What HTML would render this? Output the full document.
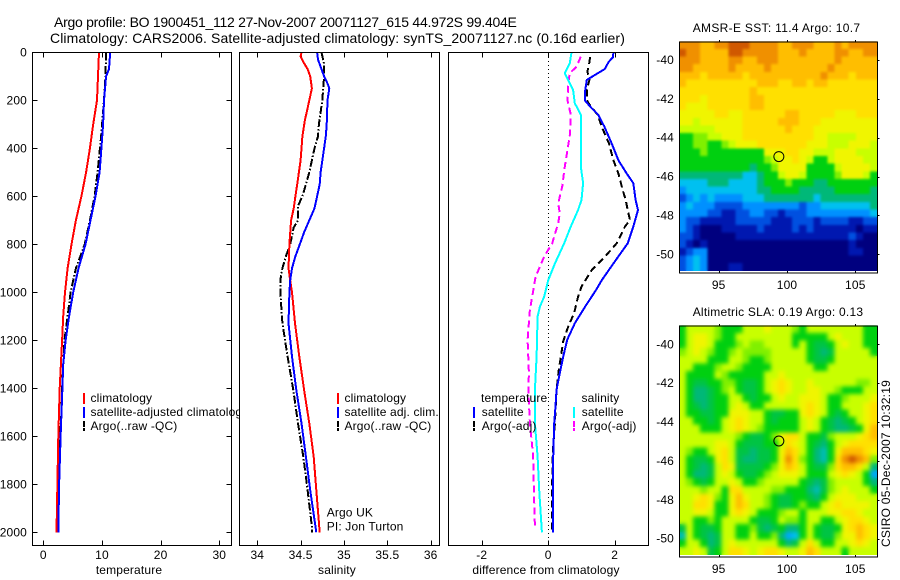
<!DOCTYPE html>
<html>
<head>
<meta charset="utf-8">
<title>Argo profile</title>
<style>
html,body{margin:0;padding:0;background:#fff;width:900px;height:580px;overflow:hidden}
svg{display:block}
text{font-family:"Liberation Sans",sans-serif;font-size:12px;letter-spacing:.15px;fill:#000}
</style>
</head>
<body>
<svg id="chart" xmlns="http://www.w3.org/2000/svg" width="900" height="580" viewBox="0 0 900 580">
<rect x="0" y="0" width="900" height="580" fill="#fff"/>
<text x="54" y="27" style="font-size:14px" textLength="463">Argo profile: BO 1900451_112 27-Nov-2007 20071127_615 44.972S 99.404E</text>
<text x="50" y="43" style="font-size:14px" textLength="575">Climatology: CARS2006. Satellite-adjusted climatology: synTS_20071127.nc (0.16d earlier)</text>
</svg>
<script>
// ---------- depth ticks ----------
const depthTicks = [0,200,400,600,800,1000,1200,1400,1600,1800,2000];
const tempTicks = [0,10,20,30];
const salTicks = [34,34.5,35,35.5,36];
const salTickLabels = ['34','34.5','35','35.5','36'];
const diffTicks = [-2,0,2];
const lonTicks = [95,100,105];
const latTicks = [-40,-42,-44,-46,-48,-50];

// ---------- temperature panel ----------
const tempClimDepth = [0,200,300,400,500,600,700,800,900,1000,1100,1200,1300,1400,1600,1800,2000];
const tempClim = [9.5,9.15,8.5,7.95,7.3,6.5,5.55,4.8,4.15,3.7,3.4,3.2,3.0,2.8,2.55,2.4,2.25];
const tempSatDepth = [0,70,100,200,300,400,500,600,700,800,900,1000,1100,1200,1300,1400,1600,1800,2000];
const tempSat = [11.4,11.2,10.7,10.35,10.2,9.9,9.6,8.9,8.05,7.2,6,5.1,4.4,3.8,3.4,3.25,2.95,2.7,2.55];
const tempArgoDepth = [0,100,200,350,500,600,700,800,900,1000,1100,1200,1400,1500,1700,2000];
const tempArgo = [10.7,10.6,10.35,9.85,9.25,8.75,7.95,7.05,5.55,4.65,4.15,3.6,3.2,3.1,2.55,2.4];

// ---------- salinity panel ----------
const salClimDepth = [0,18,40,70,100,150,200,250,280,350,450,500,550,600,650,700,800,900,950,1000,1129,1268,1407,1546,1685,1824,2000];
const salClim = [34.51,34.5,34.53,34.58,34.61,34.63,34.6,34.57,34.55,34.52,34.5,34.48,34.46,34.44,34.42,34.39,34.37,34.36,34.38,34.40,34.435,34.485,34.54,34.6,34.65,34.68,34.72];
const salSatDepth = [0,30,60,100,130,150,200,300,350,400,500,550,600,650,700,750,800,850,900,950,1000,1129,1268,1407,1546,1685,1824,2000];
const salSat = [34.69,34.7,34.73,34.77,34.81,34.83,34.81,34.8,34.79,34.77,34.73,34.72,34.69,34.66,34.6,34.54,34.49,34.44,34.4,34.38,34.37,34.36,34.4,34.45,34.51,34.56,34.61,34.68];
const salArgoDepth = [0,50,100,150,200,250,300,350,400,450,500,550,600,640,700,730,800,850,900,950,1000,1129,1268,1407,1546,1685,1824,1977,2000];
const salArgo = [34.74,34.77,34.77,34.76,34.75,34.73,34.71,34.7,34.66,34.63,34.6,34.56,34.52,34.47,34.47,34.42,34.38,34.33,34.29,34.265,34.265,34.29,34.35,34.415,34.47,34.53,34.58,34.63,34.63];

// ---------- difference panel ----------
const diffTSatDepth = [0,20,40,70,90,115,170,200,226,260,310,380,450,505,545,615,657,726,796,880,950,990,1060,1129,1198,1268,1337,1407,1476,1546,1685,2000];
const diffTSat = [1.96,1.95,1.82,1.7,1.46,1.16,1.1,1.1,1.26,1.5,1.69,1.91,2.11,2.36,2.56,2.63,2.7,2.56,2.39,1.96,1.61,1.44,1.11,.8,.57,.45,.35,.25,.22,.18,.15,.15];
const diffTArgoDepth = [20,50,80,115,157,200,226,260,310,380,450,505,574,615,657,699,726,796,851,907,976,1018,1087,1143,1205,1323,1407,1546,1685,1803,2000];
const diffTArgo = [1.26,1.23,1.18,1.24,1.16,1.16,1.28,1.49,1.61,1.83,1.96,2.11,2.24,2.33,2.39,2.46,2.31,2.06,1.71,1.31,1.0,.9,.78,.6,.45,.32,.25,.2,.13,.12,.12];
const diffSSatDepth = [0,46,87,115,157,212,260,337,476,545,615,657,726,796,880,950,1018,1060,1101,1268,1407,1546,1685,1824,2000];
const diffSSat = [.7,.65,.5,.6,.75,.8,.98,.98,.98,1.05,1.0,.9,.68,.48,.2,0,-.12,-.25,-.32,-.35,-.4,-.4,-.32,-.27,-.19];
const diffSArgoDepth = [18,60,87,129,200,260,337,407,476,560,629,671,712,796,851,935,1018,1073,1198,1337,1407,1546,1685,1824,1977];
const diffSArgo = [.98,.85,.65,.6,.58,.68,.66,.58,.5,.42,.3,.35,.3,.12,-.12,-.38,-.48,-.55,-.62,-.58,-.6,-.55,-.45,-.43,-.4];

// ---------- map colour stops ----------
const mapPalette = ['#00007f','#0018b0','#0050e0','#0090ff','#00c0f0','#00b878','#00d010','#80f000','#c8ff00','#f0f500','#ffe000','#ffbe00','#f09000','#d05800'];

// ---------- AMSR-E SST grid (colour level per cell, north to south) ----------
const sstGrid = [
[12,12,12,11,11,12,12,13,13,13,12,12,12,12,11,11,12,12,12,11,11,11,12,11,12,12,12,12],
[13,12,12,11,11,11,11,13,13,12,12,12,12,12,11,11,11,12,11,11,11,11,12,12,11,11,12,12],
[12,12,12,11,11,11,11,12,12,11,11,12,12,12,11,11,11,11,11,11,11,11,12,11,11,11,11,11],
[12,12,11,11,11,11,11,12,11,11,11,11,12,11,11,11,11,11,11,11,11,12,11,11,11,11,11,11],
[11,11,11,10,11,11,11,11,11,10,11,11,11,11,11,11,11,11,11,11,12,11,11,11,10,11,11,11],
[11,10,10,10,10,10,10,10,10,10,10,11,11,11,10,10,11,11,10,11,11,10,10,10,10,10,10,10],
[10,10,10,10,10,10,10,10,10,10,11,10,10,10,10,10,10,10,10,10,10,10,10,10,10,10,10,10],
[10,10,10,9,10,10,10,10,10,10,11,11,10,10,10,10,10,10,10,10,10,10,10,10,10,10,10,10],
[10,9,9,9,10,10,10,10,10,10,11,11,10,10,10,10,10,10,10,10,10,10,10,10,10,10,10,10],
[9,9,9,9,9,10,10,9,9,10,10,10,10,10,10,11,11,10,10,10,10,10,9,9,9,10,10,10],
[9,9,8,9,9,9,9,9,9,10,10,10,10,10,11,11,11,10,10,10,9,9,9,9,9,9,9,9],
[8,8,8,8,8,9,9,9,9,10,10,10,10,10,10,11,10,10,10,9,9,9,9,9,9,9,9,9],
[6,6,7,7,8,8,9,9,9,10,10,10,10,10,10,10,10,10,10,9,9,8,8,8,8,9,9,9],
[6,6,7,7,6,6,7,8,9,9,9,10,10,10,10,10,10,10,9,9,9,8,8,8,9,9,9,8],
[6,6,6,7,6,6,6,6,6,6,6,6,9,9,9,10,10,9,9,8,8,8,9,9,9,8,8,8],
[6,6,6,6,6,6,6,6,6,6,6,6,7,8,9,9,10,9,8,6,6,8,9,9,9,9,8,8],
[6,6,6,6,6,6,6,6,6,6,5,6,6,7,9,9,9,9,6,6,6,6,8,9,9,9,9,8],
[5,5,5,5,5,5,5,5,5,4,4,5,6,6,8,9,9,8,6,6,6,6,7,9,9,9,8,6],
[4,4,4,4,5,5,5,4,4,4,4,5,6,6,6,7,6,6,6,5,5,6,6,6,6,6,6,6],
[3,4,4,4,4,4,4,4,4,4,4,5,5,6,6,6,6,5,5,5,5,5,6,6,6,6,6,5],
[2,3,4,3,4,3,3,3,3,4,4,4,5,5,5,5,5,5,5,4,5,5,5,5,5,5,5,5],
[3,4,3,3,3,2,2,2,2,3,3,3,3,3,3,3,3,2,3,3,4,4,4,4,4,4,4,5],
[3,3,3,3,2,2,1,1,2,2,3,3,2,2,1,2,2,2,3,3,3,3,3,3,3,3,3,4],
[3,2,2,1,1,1,1,1,2,2,2,2,2,1,1,1,2,2,2,1,2,2,2,2,1,1,2,2],
[3,2,1,0,0,0,1,1,1,1,1,2,1,1,1,1,2,1,2,1,1,1,1,1,1,0,1,1],
[2,2,1,0,0,0,0,0,1,1,1,1,1,1,1,1,1,1,1,1,1,1,1,1,2,1,0,0],
[2,1,0,1,0,0,0,0,0,0,0,0,0,0,0,0,0,0,0,0,0,0,0,0,1,0,0,0],
[1,2,3,3,0,0,0,0,0,0,0,0,0,0,0,0,0,0,0,0,0,0,0,0,1,1,0,0],
[2,3,4,3,0,0,0,0,0,0,0,0,0,0,0,0,0,0,0,0,0,0,0,0,0,0,0,0],
[2,3,4,3,0,0,0,1,1,0,0,0,0,0,0,0,0,0,0,0,0,0,0,0,0,0,0,0]
];

// ---------- Altimetric SLA grid (colour level per cell, north to south) ----------
const slaGrid = [
[6,8,8,8,8,7,6,6,6,8,8,8,9,8,8,8,7,6,8,8,8,8,8,8,8,8,6,6],
[6,8,9,9,8,7,6,6,8,8,8,8,8,8,8,8,6,6,6,6,6,8,9,8,8,8,6,6],
[6,8,9,9,8,6,6,6,7,8,7,7,8,8,8,8,6,8,6,5.5,5.5,6,8,9,8,8,6,6],
[7,8,9,8,7,6,6,7,8,7,7,7,7,8,8,8,8,8,6,5.5,5,5.5,8,8,8,8,8,6],
[8,8,8,8,6,6,6,8,8,7,6,6,7,8,8,8,8,8,6,5.5,5.5,6,8,8,8,8,8,8],
[8,8,6,6,6,7,8,8,7,6,6,6,6,8,8,8,8,8,8,6,6,8,8,8,8,8,8,8],
[8,6,6,6,6,8,7,6,6,6,6,6,8,8,9,8,8,8,8,8,8,8,8,8,8,8,8,8],
[8,6,5.5,5.5,6,6,7,7,6,5.5,5.5,6,8,9,10,9,8,8,9,8,8,8,8,8,8,7,7,8],
[8,6,5,5,5.5,6,7,8,6,5.5,5.5,6,8,9,10,9,8,8,9,9,8,8,7,6,6,6,8,8],
[8,6,5,5,5.5,6,6,8,8,6,5.5,6,6,8,9,8,8,9,9,9,8,6,6,7,8,8,8,9],
[8,6,5.5,5,5.5,6,6,8,9,8,6,6,8,8,8,8,8,9,10,9,8,6,6,8,8,8,9,10],
[8,6,6,5.5,5.5,6,6,9,9,9,8,8,6,5.5,5.5,6,6,9,10,9,8,6,5.5,6,8,8,9,10],
[8,8,6,6,5.5,6,8,9,10,9,8,8,6,5.5,6,6,6,8,9,8,6,5.5,5,5.5,6,8,9,10],
[8,8,8,6,6,6,8,9,10,9,8,7,6,6,6,6,6,8,9,8,6,5.5,5,5,5.5,6,9,11],
[8,8,8,8,8,8,8,8,7,6,5.5,5.5,6,7,9,10,10,8,6,6,5.5,7,8,8,8,9,10,11],
[8,8,8,8,8,9,9,8,6,5.5,5.5,5.5,6,6,8,10,9,8,6,5.5,5,6,8,9,10,10,10,10],
[8,7,6,6,8,9,10,8,5.5,5.5,5,5.5,5.5,6,9,11,10,8,6,5,4.5,6,9,11,11,11,10,9],
[8,6,5.5,5.5,6,9,10,8,5.5,5,5,5.5,5.5,6,9,12,10,7,6,5,4.5,6,10,12,13,12,11,7],
[8,6,5.5,5,5.5,8,10,9,5.5,5.5,5.5,5.5,6,7,9,11,10,8,6,5.5,5.5,7,10,11,11,10,8,5],
[8,6,5,5,5.5,8,9,8,6,5.5,5.5,6,7,8,9,9,9,8,6,6,6,8,9,10,9,8,6,3.5],
[8,7,6,5.5,6,8,8,9,8,6,6,7,8,8,8,8,8,6,5.5,5,5.5,7,8,8,8,8,6,5],
[8,8,8,7,8,8,6,10,10,8,8,8,8,7,7,6,6,6,5,4.5,5.5,7,8,9,8,8,8,6],
[8,8,9,10,9,7,6,9,11,9,8,8,7,6,5.5,5.5,6,6,5.5,5,6,8,9,9,9,8,8,8],
[8,8,10,10,9,6,6,9,11,10,8,8,7,6,5.5,5.5,6,7,6,6,8,9,10,9,9,9,9,8],
[8,8,9,9,8,6,6,9,10,9,8,6,6,6,7,8,8,6,8,8,8,9,9,10,10,9,8,8],
[8,8,6,6,7,6,8,8,8,8,6,5.5,5.5,6,8,7,7,6,8,8,6,6,8,9,10,10,9,8],
[5.5,8,6,5.5,5.5,6,8,8,6,6,7,5.5,5,5.5,6,5,5,6,8,6,5.5,5.5,6,9,10,11,10,9],
[4.5,8,6,5.5,5,5.5,8,8,6,6,8,6,6,7,5,3.5,4,6,8,6,5.5,5.5,7,9,9,11,10,9],
[6,8,8,6,5,5.5,8,9,8,8,8,8,8,8,6,5,5.5,8,10,8,6,6,8,8,9,10,9,8],
[8,8,9,8,5.5,6,8,10,10,9,8,9,10,10,9,8,8,9,11,10,8,8,8,6,8,8,8,8]
];

// ---------- marker position of the float ----------
const floatLon = [99.404];
const floatLat = [-44.972];

const svg = document.getElementById('chart');
const NS = 'http://www.w3.org/2000/svg';
function node(tag, attrs, parent) {
  const el = document.createElementNS(NS, tag);
  for (const k in attrs) el.setAttribute(k, attrs[k]);
  (parent || svg).appendChild(el);
  return el;
}
function label(str, x, y, anchor, parent) {
  const t = node('text', {x: x, y: y, 'text-anchor': anchor || 'start'}, parent);
  t.textContent = str;
  return t;
}
function linear(d0, p0, d1, p1) {
  return v => p0 + (v - d0) * (p1 - p0) / (d1 - d0);
}
const yDepth = linear(0, 52.3, 2000, 532.3);

function panel(name, left, right, xScale, xTicks, xLabels, xTitle, titleX, depthAxis) {
  const g = node('g', {});
  
  
  const bg = node('rect', {x: left + .5, y: 52.5, width: right - left, height: 493, fill: '#fff'}, g);
  
  
  const ticks = node('g', {stroke: '#000', 'stroke-width': 1, 'shape-rendering': 'crispEdges'}, g);
  
  
  xTicks.forEach((v, i) => {
    const x = Math.round(xScale(v)) + .5;
    node('line', {x1: x, x2: x, y1: 52.5, y2: 57.5}, ticks);
    node('line', {x1: x, x2: x, y1: 545.5, y2: 540.5}, ticks);
    const t = label(xLabels[i], xScale(v), 559, 'middle', g);
    
    
  });
  if (depthAxis) {
    depthTicks.forEach(d => {
      const y = Math.round(yDepth(d)) + .5;
      node('line', {x1: left + .5, x2: left + 5.5, y1: y, y2: y}, ticks);
      node('line', {x1: right + .5, x2: right - 4.5, y1: y, y2: y}, ticks);
      const t = label(String(d), 27, yDepth(d) + 4, 'end', g);
      
      
    });
  }
  const tt = label(xTitle, titleX, 574, 'middle', g);
  
  
  return g;
}
function frame(g, name, left, right) {
  const f = node('rect', {x: left + .5, y: 52.5, width: right - left, height: 493, fill: 'none', stroke: '#000', 'stroke-width': 1, 'shape-rendering': 'crispEdges'}, g);
  
  
}
function series(g, seriesName, depths, values, xScale, color, dash) {
  const pts = depths.map((d, i) => xScale(values[i]).toFixed(1) + ',' + yDepth(d).toFixed(1)).join(' ');
  const attrs = {points: pts, fill: 'none', stroke: color, 'stroke-width': 2, 'stroke-linejoin': 'round', 'shape-rendering': 'crispEdges'};
  if (dash) attrs['stroke-dasharray'] = dash;
  const p = node('polyline', attrs, g);
  
  
}
function legendEntry(g, entryName, mx, tx, y, color, str, dash) {
  if (color) {
    const attrs = {x1: mx, x2: mx, y1: y - 9, y2: y + 2, stroke: color, 'stroke-width': 2, 'shape-rendering': 'crispEdges'};
    if (dash) attrs['stroke-dasharray'] = dash;
    const m = node('line', attrs, g);
    
    
  }
  const t = label(str, tx, y, 'start', g);
  
  
}

const DASHDOT = '8 2 1.5 2';
const DASH = '7 4';

// Temperature
const xTemp = linear(0, 43.3, 30, 219.3);
const gT = panel('temperature', 32, 231, xTemp, tempTicks, tempTicks.map(String), 'temperature', 129, true);
series(gT, 'temperature-argo-line', tempArgoDepth, tempArgo, xTemp, '#000', DASHDOT);
series(gT, 'temperature-climatology-line', tempClimDepth, tempClim, xTemp, '#f00');
series(gT, 'temperature-satellite-line', tempSatDepth, tempSat, xTemp, '#00f');
frame(gT, 'temperature', 32, 231);
legendEntry(gT, 'legend-climatology', 84, 90.5, 402, '#f00', 'climatology');
legendEntry(gT, 'legend-satellite-adjusted', 84, 90.5, 416, '#00f', 'satellite-adjusted climatology');
legendEntry(gT, 'legend-argo', 84, 90.5, 430, '#000', 'Argo(..raw -QC)', '6 1 3 1');

// Salinity
const xSal = linear(34, 257.3, 36, 430.7);
const gS = panel('salinity', 239, 439, xSal, salTicks, salTickLabels, 'salinity', 337, false);
series(gS, 'salinity-argo-line', salArgoDepth, salArgo, xSal, '#000', DASHDOT);
series(gS, 'salinity-climatology-line', salClimDepth, salClim, xSal, '#f00');
series(gS, 'salinity-satellite-line', salSatDepth, salSat, xSal, '#00f');
frame(gS, 'salinity', 239, 439);
legendEntry(gS, 'legend-sal-climatology', 338, 344.5, 402, '#f00', 'climatology');
legendEntry(gS, 'legend-sal-satellite', 338, 344.5, 416, '#00f', 'satellite adj. clim.');
legendEntry(gS, 'legend-sal-argo', 338, 344.5, 430, '#000', 'Argo(..raw -QC)', '6 1 3 1');
legendEntry(gS, 'float-owner-label', 0, 326.7, 516.7, null, 'Argo UK');
legendEntry(gS, 'float-pi-label', 0, 326.7, 530.7, null, 'PI: Jon Turton');

// Difference
const xDiff = linear(-2, 481.7, 2, 614.7);
const gD = panel('difference', 448, 648, xDiff, diffTicks, diffTicks.map(v => v < 0 ? '-' + Math.abs(v) : String(v)), 'difference from climatology', 546, false);
const zero = node('line', {x1: Math.round(xDiff(0)) + .5, x2: Math.round(xDiff(0)) + .5, y1: 53, y2: 545, stroke: '#000', 'stroke-width': 1, 'stroke-dasharray': '1 3', 'shape-rendering': 'crispEdges'}, gD);


series(gD, 'difference-salinity-argo-line', diffSArgoDepth, diffSArgo, xDiff, '#f0f', DASH);
series(gD, 'difference-salinity-satellite-line', diffSSatDepth, diffSSat, xDiff, '#0ff');
series(gD, 'difference-temperature-argo-line', diffTArgoDepth, diffTArgo, xDiff, '#000', DASH);
series(gD, 'difference-temperature-satellite-line', diffTSatDepth, diffTSat, xDiff, '#00f');
frame(gD, 'difference', 448, 648);
legendEntry(gD, 'legend-temperature-header', 0, 481, 402, null, 'temperature');
legendEntry(gD, 'legend-temp-satellite', 474, 481.7, 416, '#00f', 'satellite');
legendEntry(gD, 'legend-temp-argo', 474, 481.7, 430, '#000', 'Argo(-adj)', '6 1 3 1');
legendEntry(gD, 'legend-salinity-header', 0, 581.5, 402, null, 'salinity');
legendEntry(gD, 'legend-sal-satellite-diff', 574, 581.7, 416, '#0ff', 'satellite');
legendEntry(gD, 'legend-sal-argo-diff', 574, 581.7, 430, '#f0f', 'Argo(-adj)', '6 1 3 1');

// Maps
const defs = node('defs', {});
function hex(c) { return [1, 3, 5].map(i => parseInt(c.substr(i, 2), 16)); }
function levelColor(v) {
  const lo = Math.max(0, Math.min(mapPalette.length - 1, Math.floor(v)));
  const hi = Math.min(mapPalette.length - 1, lo + 1);
  const f = v - lo;
  const a = hex(mapPalette[lo]), b = hex(mapPalette[hi]);
  return 'rgb(' + a.map((x, i) => Math.round(x + (b[i] - x) * f)).join(',') + ')';
}
function mapPanel(name, grid, top, imgBottom, bottom, lat40, lat50, titleStr, titleBase, titleWidth, xLabelBase, soften) {
  const left = 679, right = 877;
  const g = node('g', {});
  
  
  const lon = linear(95, 718.7, 105, 855.3);
  const lat = linear(-40, lat40, -50, lat50);
  const rows = grid.length, cols = grid[0].length;
  const cw = (right - left) / cols, ch = (imgBottom - top) / rows;
  const fid = name + '-soften';
  const filt = node('filter', {id: fid, filterUnits: 'userSpaceOnUse', x: left, y: top, width: right - left, height: imgBottom - top, 'color-interpolation-filters': 'sRGB'}, defs);
  node('feGaussianBlur', {'in': 'SourceGraphic', stdDeviation: soften, result: 'b'}, filt);
  const merge = node('feMerge', {}, filt);
  node('feMergeNode', {'in': 'SourceGraphic'}, merge);
  node('feMergeNode', {'in': 'b'}, merge);
  const cells = node('g', {'shape-rendering': 'crispEdges', filter: 'url(#' + fid + ')'}, g);
  
  
  grid.forEach((row, r) => row.forEach((v, c) => {
    node('rect', {x: (left + c * cw).toFixed(2), y: (top + r * ch).toFixed(2), width: (cw + .4).toFixed(2), height: (ch + .4).toFixed(2), fill: levelColor(v)}, cells);
  }));
  const ax = node('g', {stroke: '#000', 'stroke-width': 1, 'shape-rendering': 'crispEdges'}, g);
  
  
  node('rect', {x: left + .5, y: top + .5, width: right - left, height: bottom - top, fill: 'none'}, ax);
  lonTicks.forEach(v => {
    const x = Math.round(lon(v)) + .5;
    node('line', {x1: x, x2: x, y1: top - 1.5, y2: top + .5}, ax);
    node('line', {x1: x, x2: x, y1: bottom + .5, y2: bottom - 1.5}, ax);
    const t = label(String(v), lon(v), xLabelBase, 'middle', g);
    
    
  });
  latTicks.forEach(v => {
    const y = Math.round(lat(v)) + .5;
    node('line', {x1: right + .5, x2: right + 2.5, y1: y, y2: y}, ax);
    const t = label(String(v), 674, lat(v) + 4, 'end', g);
    
    
  });
  const tt = label(titleStr, 692.7, titleBase, 'start', g);
  tt.setAttribute('textLength', titleWidth);
  
  
  const dot = node('circle', {cx: lon(floatLon[0]), cy: lat(floatLat[0]), r: 5, fill: 'none', stroke: '#000', 'stroke-width': 1}, g);
  
  
}
mapPanel('sst', sstGrid, 41.3, 270.7, 272.5, 60, 254.3, 'AMSR-E SST: 11.4 Argo: 10.7', 32, 167.5, 289, 1.3);
mapPanel('sla', slaGrid, 325.3, 554.7, 556.5, 344.3, 538.7, 'Altimetric SLA: 0.19 Argo: 0.13', 316, 170.5, 573, 2.2);

const stamp = node('text', {x: 0, y: 0, transform: 'translate(890,547) rotate(-90)', textLength: 167});


stamp.textContent = 'CSIRO 05-Dec-2007 10:32:19';
</script>
</body>
</html>
